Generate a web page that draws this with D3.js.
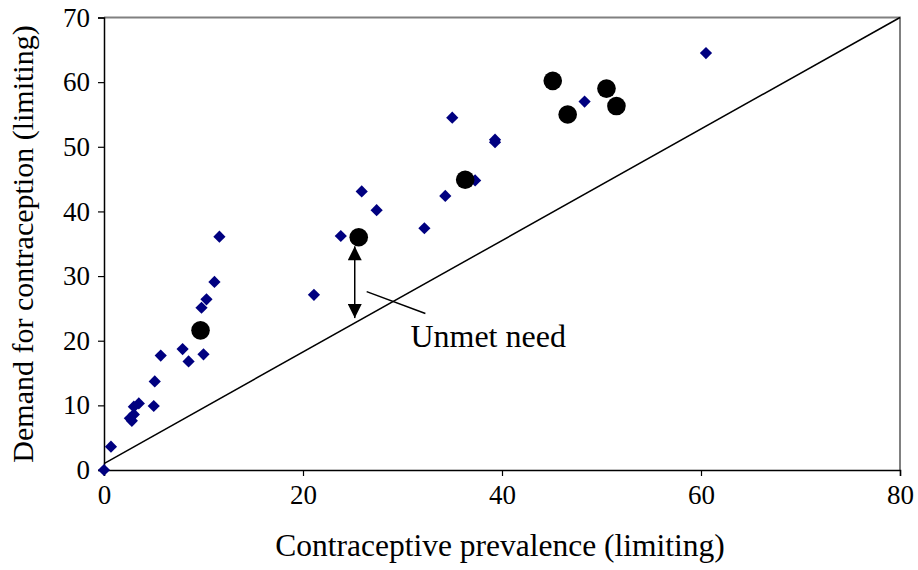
<!DOCTYPE html>
<html>
<head>
<meta charset="utf-8">
<script src="https://cdn.jsdelivr.net/npm/d3@7"></script>
<style>
  body { margin: 0; background: #fff; }
</style>
</head>
<body>
<svg id="chart" width="918" height="570"></svg>
<script>
// country points: contraceptive prevalence vs demand (limiting)
const smallX = [0, 0.7, 2.6, 2.8, 3.0, 3.0, 3.5, 5.0, 5.1, 5.7, 7.9, 8.5, 10.0, 9.8, 10.3, 11.1, 11.6,
                21.1, 23.8, 25.9, 27.4, 32.2, 34.3, 35.0, 37.3, 39.3, 39.3, 48.3, 60.5];
const smallY = [0, 3.6, 8.0, 7.6, 8.6, 9.8, 10.3, 9.9, 13.7, 17.7, 18.7, 16.8, 17.9, 25.1, 26.4, 29.1, 36.1,
                27.1, 36.2, 43.1, 40.2, 37.4, 42.4, 54.5, 44.8, 51.1, 50.7, 57.0, 64.5];

// highlighted points (big black dots)
const bigX = [9.7, 25.6, 36.3, 45.1, 46.6, 50.5, 51.5];
const bigY = [21.6, 36.0, 44.9, 60.2, 55.0, 59.0, 56.3];

// reference line and unmet-need annotation
const refLine = [[0, 1], [80, 70]];
const arrowX = 25.2, arrowTop = 34.6, arrowBottom = 23.5;
const leader = [[26.4, 27.6], [32.3, 24.2]];
const noteLabel = "Unmet need";

const xTicks = [0, 20, 40, 60, 80];
const yTicks = [0, 10, 20, 30, 40, 50, 60, 70];

const serif = "'Liberation Serif', 'Times New Roman', serif";
const svg = d3.select("#chart");
const margin = { left: 104, right: 18, top: 17.5, bottom: 100 };
const W = 918, H = 570;

const x = d3.scaleLinear().domain([0, 80]).range([margin.left, W - margin.right]);
const y = d3.scaleLinear().domain([0, 70]).range([H - margin.bottom, margin.top]);

// plot frame (top/right grey)
svg.append("path")
    .attr("d", `M${x(0)},${y(70)}H${x(80)}V${y(0)}`)
    .attr("fill", "none").attr("stroke", "#808080").attr("stroke-width", 2);

// axes
const xAxis = svg.append("g")
    .attr("transform", `translate(0,${y(0)})`)
    .call(d3.axisBottom(x).tickValues(xTicks).tickSize(6).tickPadding(9));
const yAxis = svg.append("g")
    .attr("transform", `translate(${x(0)},0)`)
    .call(d3.axisLeft(y).tickValues(yTicks).tickSize(6).tickPadding(8));

[xAxis, yAxis].forEach(function (g) {
    g.select(".domain").attr("stroke", "#000").attr("stroke-width", 1.5);
    g.selectAll(".tick line").attr("stroke", "#000").attr("stroke-width", 1.2);
    g.selectAll(".tick text")
        .attr("fill", "#000")
        .style("font-family", serif)
        .style("font-size", "27px");
});

// reference line
svg.append("line")
    .attr("x1", x(refLine[0][0])).attr("y1", y(refLine[0][1]))
    .attr("x2", x(refLine[1][0])).attr("y2", y(refLine[1][1]))
    .attr("stroke", "#000").attr("stroke-width", 1.5);

// small diamonds
const diamond = d3.symbol().type(d3.symbolDiamond2).size(95);
svg.append("g").selectAll("path")
    .data(d3.range(smallX.length))
    .enter().append("path")
    .attr("d", diamond)
    .attr("transform", function (i) { return `translate(${x(smallX[i])},${y(smallY[i])})`; })
    .attr("fill", "#000080");

// big dots
svg.append("g").selectAll("circle")
    .data(d3.range(bigX.length))
    .enter().append("circle")
    .attr("cx", function (i) { return x(bigX[i]); })
    .attr("cy", function (i) { return y(bigY[i]); })
    .attr("r", 9.3)
    .attr("fill", "#000");

// double arrow
const defs = svg.append("defs");
defs.append("marker")
    .attr("id", "head")
    .attr("viewBox", "0 0 10 10")
    .attr("refX", 10).attr("refY", 5)
    .attr("markerWidth", 15).attr("markerHeight", 14)
    .attr("markerUnits", "userSpaceOnUse")
    .attr("orient", "auto-start-reverse")
    .append("path").attr("d", "M0,0L10,5L0,10Z").attr("fill", "#000");

svg.append("line")
    .attr("x1", x(arrowX)).attr("y1", y(arrowBottom))
    .attr("x2", x(arrowX)).attr("y2", y(arrowTop))
    .attr("stroke", "#000").attr("stroke-width", 1.5)
    .attr("marker-start", "url(#head)")
    .attr("marker-end", "url(#head)");

svg.append("line")
    .attr("x1", x(leader[0][0])).attr("y1", y(leader[0][1]))
    .attr("x2", x(leader[1][0])).attr("y2", y(leader[1][1]))
    .attr("stroke", "#000").attr("stroke-width", 1.5);

svg.append("text")
    .attr("x", x(leader[1][0]) - 15).attr("y", 347)
    .style("font-family", serif)
    .style("font-size", "32px")
    .text(noteLabel);

// axis titles
svg.append("text")
    .attr("x", 500).attr("y", 556)
    .attr("text-anchor", "middle")
    .style("font-family", serif)
    .style("font-size", "31.5px")
    .text("Contraceptive prevalence (limiting)");

svg.append("text")
    .attr("transform", "translate(33,244) rotate(-90)")
    .attr("text-anchor", "middle")
    .style("font-family", serif)
    .style("font-size", "30px")
    .text("Demand for contraception (limiting)");
</script>
</body>
</html>
